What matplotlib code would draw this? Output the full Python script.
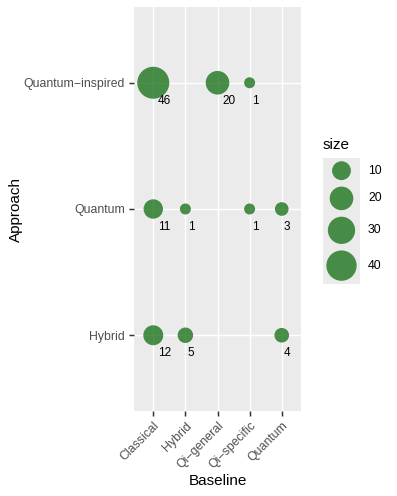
import numpy as np
import matplotlib
matplotlib.use("Agg")
from matplotlib import pyplot as plt

plt.rcParams['font.family'] = ['Liberation Sans', 'DejaVu Sans']

baselines = ["Classical", "Hybrid", "Qi\u2212general", "Qi\u2212specific", "Quantum"]
approaches = ["Hybrid", "Quantum", "Quantum\u2212inspired"]

# one entry per bubble: approach, baseline, count
pt_approach = ["Quantum\u2212inspired", "Quantum\u2212inspired", "Quantum\u2212inspired",
               "Quantum", "Quantum", "Quantum", "Quantum",
               "Hybrid", "Hybrid", "Hybrid"]
pt_baseline = ["Classical", "Qi\u2212general", "Qi\u2212specific",
               "Classical", "Hybrid", "Qi\u2212specific", "Quantum",
               "Classical", "Hybrid", "Quantum"]
pt_count = [46, 20, 1, 11, 1, 1, 3, 12, 5, 4]

legend_breaks = [10, 20, 30, 40]

PANEL_BG = "#EBEBEB"
POINT_COL = (0.0, 100 / 255, 0.0, 0.7)


def diam_px(v):
    # size scale (area-like): diameter in pixels
    return 7.37 + 3.63 * np.sqrt(np.asarray(v, dtype=float))


def s_of(v):
    return (diam_px(v) * 0.72) ** 2


W, H = 397, 496
fig = plt.figure(figsize=(W / 100, H / 100), dpi=100)

ax = fig.add_axes([134 / W, 1 - 411 / H, (301 - 134) / W, (411 - 7) / H])
ax.set_facecolor(PANEL_BG)
for sp in ax.spines.values():
    sp.set_visible(False)

xs = [baselines.index(b) + 1 for b in pt_baseline]
ys = [approaches.index(a) + 1 for a in pt_approach]

ax.set_xlim(0.4, 5.6)
ax.set_ylim(0.4, 3.6)
ax.set_xticks(range(1, 6))
ax.set_yticks(range(1, 4))
ax.grid(True, color="white", linewidth=1.07)
ax.set_axisbelow(True)

ax.scatter(xs, ys, s=s_of(pt_count), color=POINT_COL, linewidths=0, zorder=3)

for x, y, c in zip(xs, ys, pt_count):
    lab = str(c)
    ax.annotate(lab, (x, y), xytext=(1.6 * len(lab), -15.3), textcoords="offset points",
                ha="left", va="baseline", fontsize=8.5, color="black", zorder=4)

ax.set_xticklabels(baselines, rotation=45, ha="right", va="top", rotation_mode="anchor",
                   fontsize=8.8, color="#4D4D4D")
ax.set_yticklabels(approaches, fontsize=8.8, color="#4D4D4D")
ax.tick_params(axis="both", length=3.8, width=1.07, color="#333333", pad=2.5)

ax.set_xlabel("Baseline", fontsize=11, labelpad=2)
ax.set_ylabel("Approach", fontsize=11, labelpad=1)

# legend for size
d_leg = diam_px(legend_breaks)
key_h = d_leg + 6.5
total = key_h.sum()
centers = np.cumsum(key_h) - key_h / 2
lax = fig.add_axes([323 / W, 1 - (158 + total) / H, 37 / W, total / H])
lax.set_facecolor(PANEL_BG)
for sp in lax.spines.values():
    sp.set_visible(False)
lax.set_xlim(0, 37)
lax.set_ylim(total, 0)
lax.set_xticks([])
lax.set_yticks([])
lax.scatter([18.5] * len(legend_breaks), centers, s=s_of(legend_breaks),
            color=POINT_COL, linewidths=0)
for c, v in zip(centers, legend_breaks):
    lax.text(45, c, str(v), fontsize=8.8, ha="left", va="center", clip_on=False)
lax.text(0, -6, "size", fontsize=11, ha="left", va="bottom", clip_on=False)

fig.savefig("out.png", dpi=100)
